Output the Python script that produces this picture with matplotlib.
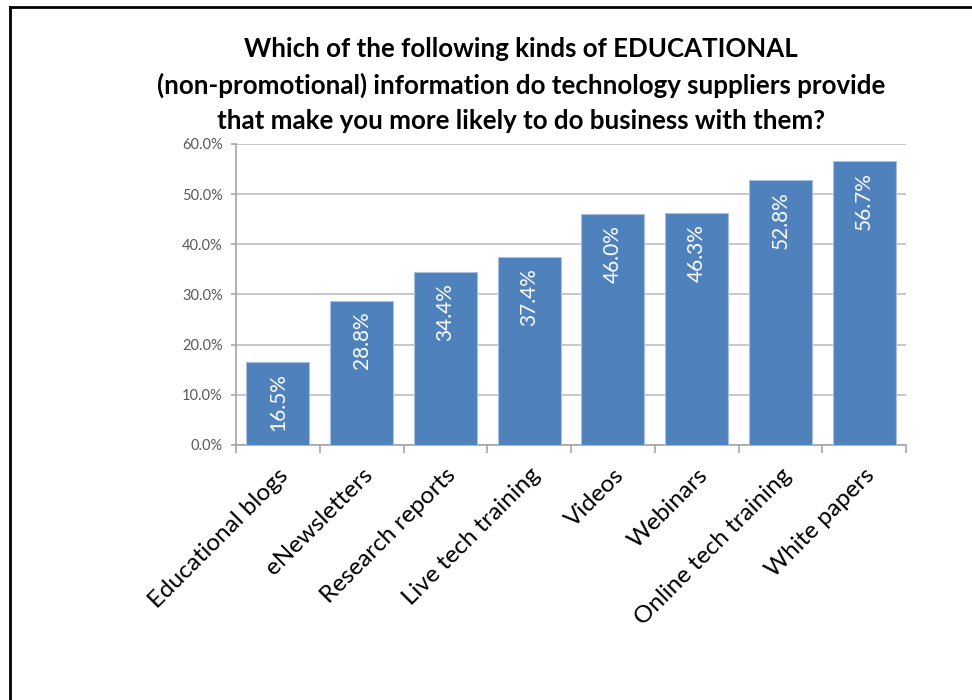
import numpy as np
import matplotlib
matplotlib.use("Agg")
import matplotlib.pyplot as plt
from matplotlib.lines import Line2D
from matplotlib.ticker import FuncFormatter

# survey answers, share of respondents (%)
categories = ["Educational blogs", "eNewsletters", "Research reports", "Live tech training",
              "Videos", "Webinars", "Online tech training", "White papers"]
values = [16.5, 28.8, 34.4, 37.4, 46.0, 46.3, 52.8, 56.7]
yticks = [0, 10, 20, 30, 40, 50, 60]

title_lines = ["Which of the following kinds of EDUCATIONAL",
               "(non-promotional) information do technology suppliers provide",
               "that make you more likely to do business with them?"]

plt.rcParams["font.family"] = ["Lato", "DejaVu Sans"]

fig = plt.figure(figsize=(9.72, 7.0), dpi=100)
ax = fig.add_axes([0.2428, 0.3643, 0.6893, 0.43])

x = np.arange(len(categories))
bars = ax.bar(x, values, width=0.75, color="#4F81BD", edgecolor="#A7C0E0",
              linewidth=0.8, zorder=3)

for xi, v in zip(x, values):
    ax.annotate(f"{v:.1f}%", (xi, v), xytext=(0, -8), textcoords="offset points",
                ha="center", va="top", rotation=90, color="white", fontsize=15,
                zorder=4)

ax.set_xlim(-0.5, len(categories) - 0.5)
ax.set_ylim(0, 60)
ax.set_yticks(yticks)
ax.yaxis.set_major_formatter(FuncFormatter(lambda v, p: f"{v:.1f}%"))
ax.grid(axis="y", color="#BFBFBF", linewidth=1.2, zorder=0)

# category boundaries carry the tick marks
ax.set_xticks(np.arange(len(categories) + 1) - 0.5)
ax.set_xticklabels([])
ax.set_xticks(x, minor=True)
ax.set_xticklabels(categories, minor=True, rotation=45, ha="right",
                   rotation_mode="anchor", fontsize=17.5, color="black")
ax.tick_params(axis="x", which="minor", length=0, pad=14)
ax.tick_params(axis="x", which="major", length=6, color="#A6A6A6", width=1.2)
ax.tick_params(axis="y", length=3.5, color="#A6A6A6", width=1.2, labelsize=10.5,
               labelcolor="#595959", pad=6)

for side in ["top", "right"]:
    ax.spines[side].set_visible(False)
for side in ["left", "bottom"]:
    ax.spines[side].set_color("#A6A6A6")
    ax.spines[side].set_linewidth(1.2)

for i, line in enumerate(title_lines):
    fig.text(0.536, 1 - (49 + 36 * i) / 700, line, ha="center", va="center",
             fontsize=18.6, fontweight="bold", color="black")

# frame on the left and top edges of the picture
fig.add_artist(Line2D([10 / 972, 10 / 972], [0, 1 - 7 / 700], color="black", linewidth=2))
fig.add_artist(Line2D([10 / 972, 1], [1 - 7 / 700, 1 - 7 / 700], color="black", linewidth=2))

fig.savefig("out.png", dpi=100)
